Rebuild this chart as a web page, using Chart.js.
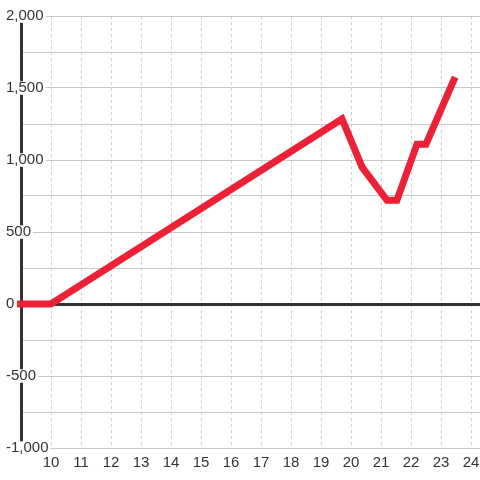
<!DOCTYPE html>
<html>
<head>
<meta charset="utf-8">
<script src="https://cdn.jsdelivr.net/npm/chart.js@4"></script>
<style>
  html, body { margin: 0; padding: 0; background: #fff; }
  #chart { display: block; }
</style>
</head>
<body>
<canvas id="chart" width="480" height="480"></canvas>
<script>
// values
const xValues = [8.87, 10, 19.7, 20.37, 21.2, 21.53, 22.2, 22.5, 23.47];
const yValues = [0, 0, 1285, 950, 720, 720, 1110, 1110, 1575];

const xMin = 9, xMax = 24.3;
const yMin = -1000, yMax = 2000, yStep = 250, yLabelStep = 500;

const points = xValues.map((x, i) => ({ x, y: yValues[i] }));

const textColor = '#333';
const fontFamily = '"Liberation Sans", Arial, sans-serif';

new Chart(document.getElementById('chart'), {
  type: 'line',
  data: {
    datasets: [{
      data: points,
      borderColor: '#ed2136',
      borderWidth: 7,
      borderJoinStyle: 'miter',
      pointRadius: 0,
      tension: 0,
      fill: false,
      clip: 5
    }]
  },
  options: {
    responsive: false,
    animation: false,
    devicePixelRatio: 1,
    layout: { padding: { left: 6, top: 16, right: 0, bottom: 8 } },
    plugins: { legend: { display: false }, tooltip: { enabled: false } },
    scales: {
      x: {
        type: 'linear',
        min: xMin,
        max: xMax,
        ticks: {
          stepSize: 1,
          includeBounds: false,
          padding: 0,
          color: textColor,
          font: { family: fontFamily, size: 15 },
          callback: v => (v === xMin ? '' : String(v))
        },
        grid: { color: '#cfcfcf', lineWidth: 1, drawTicks: true, tickLength: 6, tickColor: 'rgba(0,0,0,0)' },
        border: { display: false, dash: [3, 3] }
      },
      y: {
        min: yMin,
        max: yMax,
        afterFit: scale => { scale.width = 15; },
        ticks: {
          stepSize: yStep,
          mirror: true,
          crossAlign: 'near',
          padding: -15,
          z: 1,
          color: textColor,
          font: { family: fontFamily, size: 15, lineHeight: 0.9 },
          showLabelBackdrop: ctx => ctx.tick.value % yLabelStep === 0,
          backdropColor: '#fff',
          backdropPadding: { left: 2, right: 2, top: 0, bottom: 0 },
          callback: v => (v % yLabelStep === 0 ? v.toLocaleString('en-US') : '')
        },
        grid: {
          drawTicks: false,
          color: ctx => (ctx.tick && ctx.tick.value === 0 ? '#333' : '#c8c8c8'),
          lineWidth: ctx => (ctx.tick && ctx.tick.value === 0 ? 3 : 1)
        },
        border: { display: true, color: '#333', width: 3 }
      }
    }
  }
});
</script>
</body>
</html>
